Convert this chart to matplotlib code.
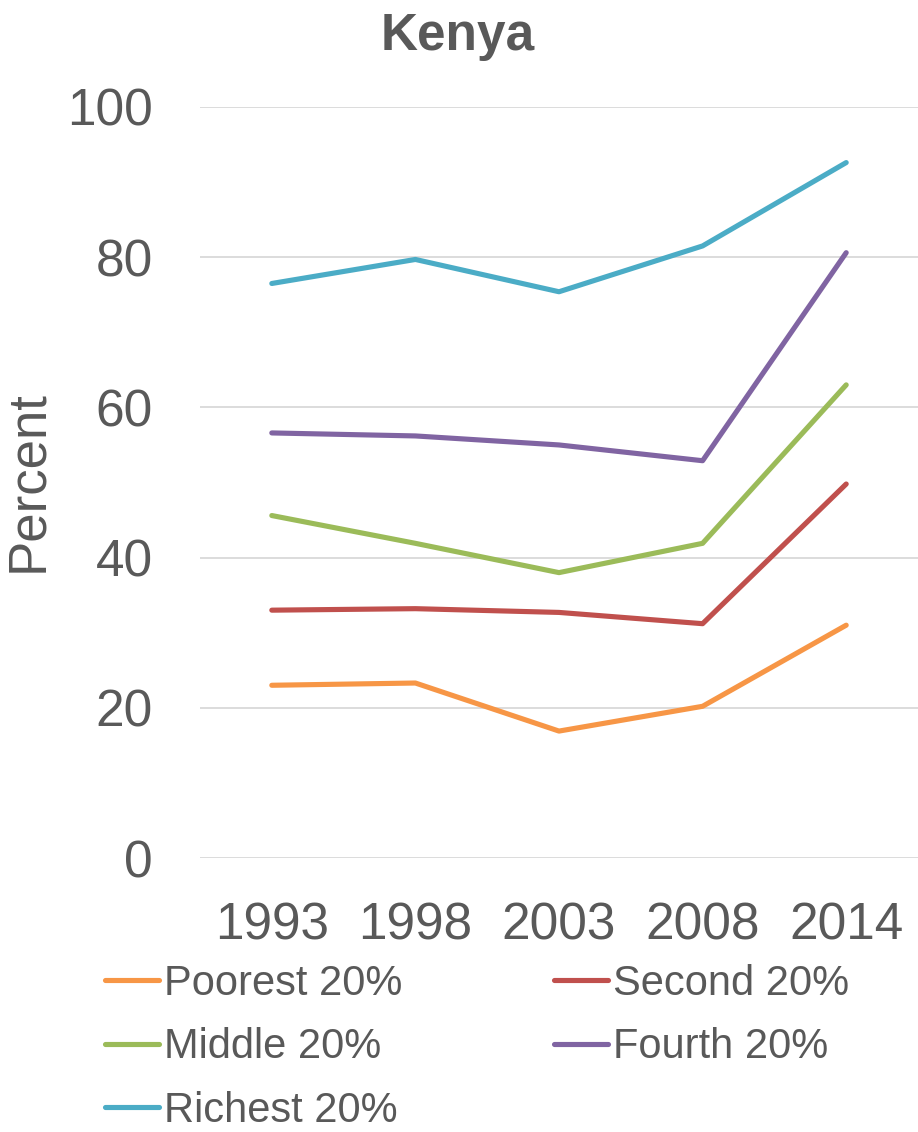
import matplotlib
matplotlib.use("Agg")
import matplotlib.pyplot as plt

years = ["1993", "1998", "2003", "2008", "2014"]
poorest = [23.0, 23.3, 16.9, 20.2, 31.0]
second = [33.0, 33.2, 32.7, 31.2, 49.8]
middle = [45.6, 41.9, 38.0, 41.9, 63.0]
fourth = [56.6, 56.2, 55.0, 52.9, 80.6]
richest = [76.5, 79.7, 75.4, 81.5, 92.6]

series_names = ["Poorest 20%", "Second 20%", "Middle 20%", "Fourth 20%", "Richest 20%"]
series_values = [poorest, second, middle, fourth, richest]
colors = ["#F79646", "#C0504D", "#9BBB59", "#8064A2", "#4BACC6"]
yticks = [0, 20, 40, 60, 80, 100]

plt.rcParams["font.family"] = ["Liberation Sans", "DejaVu Sans"]
TXT = "#595959"

W, H = 918, 1132
fig = plt.figure(figsize=(W / 100, H / 100), dpi=100)
ax = fig.add_axes([200 / W, 1 - 858 / H, 718 / W, (858 - 107) / H])

x = list(range(len(years)))
handles = {}
for name, vals, c in zip(series_names, series_values, colors):
    (ln,) = ax.plot(x, vals, color=c, lw=3.7, solid_capstyle="round",
                    solid_joinstyle="round", clip_on=False, zorder=3)
    handles[name] = ln

ax.set_xlim(-0.5, len(years) - 0.5)
ax.set_ylim(0, 100)
ax.set_yticks(yticks)
ax.set_xticks(x)
ax.set_xticklabels(years)
ax.grid(axis="y", color="#D9D9D9", lw=1.3)
ax.set_axisbelow(True)
for s in ax.spines.values():
    s.set_visible(False)
ax.tick_params(axis="both", length=0, labelsize=37, colors=TXT)
ax.tick_params(axis="y", pad=34)
ax.tick_params(axis="x", pad=31)

fig.text(28 / W, 1 - 481 / H, "Percent", rotation=90, ha="center", va="center",
         fontsize=38, color=TXT)
fig.text(458 / W, 1 - 50 / H, "Kenya", ha="center", va="baseline",
         fontsize=37, fontweight="bold", color=TXT)

order = ["Poorest 20%", "Middle 20%", "Richest 20%", "Second 20%", "Fourth 20%"]
leg = fig.legend([handles[n] for n in order], order, ncol=2, frameon=False,
                 loc="upper left", bbox_to_anchor=(105 / W, 1 - 964 / H),
                 fontsize=30, handlelength=1.3, handletextpad=0.12,
                 columnspacing=3.63, labelspacing=0.56, borderpad=0, borderaxespad=0)
for t in leg.get_texts():
    t.set_color(TXT)
for l in leg.get_lines():
    l.set_linewidth(3.7)

fig.savefig("out.png", dpi=100)
